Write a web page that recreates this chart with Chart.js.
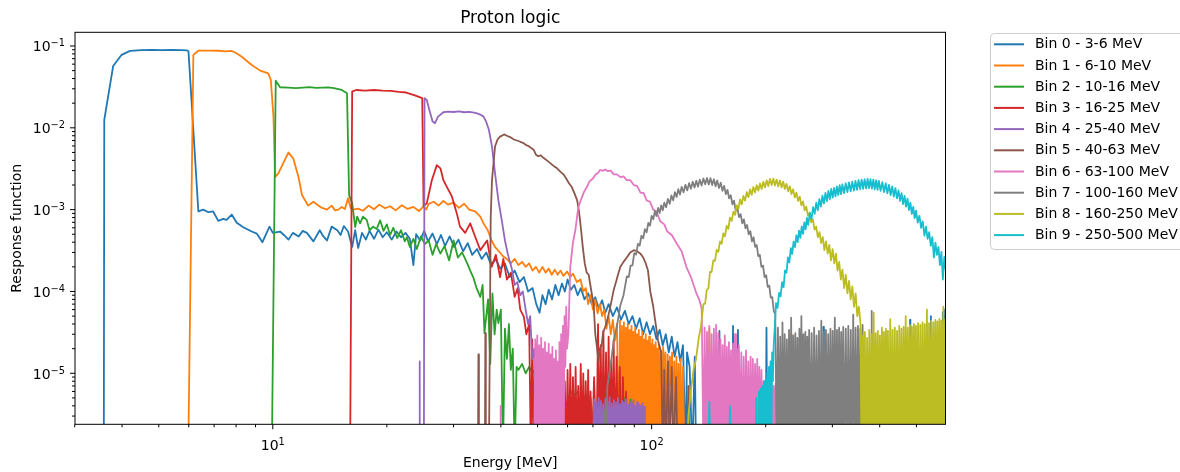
<!DOCTYPE html>
<html>
<head>
<meta charset="utf-8">
<script src="https://cdn.jsdelivr.net/npm/chart.js@4/dist/chart.umd.min.js"></script>
<style>html,body{margin:0;padding:0;background:#fff;overflow:hidden}</style>
</head>
<body>
<canvas id="proton_chart" width="1180" height="472"></canvas>
<script>
const binLabels = ['Bin 0 - 3-6 MeV', 'Bin 1 - 6-10 MeV', 'Bin 2 - 10-16 MeV', 'Bin 3 - 16-25 MeV', 'Bin 4 - 25-40 MeV',
    'Bin 5 - 40-63 MeV', 'Bin 6 - 63-100 MeV', 'Bin 7 - 100-160 MeV', 'Bin 8 - 160-250 MeV', 'Bin 9 - 250-500 MeV']
const binColors = ['#1f77b4', '#ff7f0e', '#2ca02c', '#d62728', '#9467bd', '#8c564b', '#e377c2', '#7f7f7f', '#bcbd22', '#17becf']

// tick labels (powers of ten) and minor tick positions
const xTickValues = [10, 100]
const xTickExps = ['1', '2']
const xMinor = [3, 4, 5, 6, 7, 8, 9, 20, 30, 40, 50, 60, 70, 80, 90, 200, 300, 400, 500]
const yTickValues = [1e-5, 1e-4, 1e-3, 1e-2, 1e-1]
const yTickExps = ['\u22125', '\u22124', '\u22123', '\u22122', '\u22121']
const yMinor = [3e-6, 4e-6, 5e-6, 6e-6, 7e-6, 8e-6, 9e-6, 2e-5, 3e-5, 4e-5, 5e-5, 6e-5, 7e-5, 8e-5, 9e-5,
    2e-4, 3e-4, 4e-4, 5e-4, 6e-4, 7e-4, 8e-4, 9e-4, 2e-3, 3e-3, 4e-3, 5e-3, 6e-3, 7e-3, 8e-3, 9e-3,
    2e-2, 3e-2, 4e-2, 5e-2, 6e-2, 7e-2, 8e-2, 9e-2]

// [energy MeV, response], 0 = empty bin
const bin0 = [[3.0,0],[3.58,0],[3.59,0.0125],[3.79,0.057],[3.99,0.078],[4.2,0.087],[4.5,0.089],[4.8,0.0895],[5.1,0.089],[5.4,0.0895],[5.7,0.089],[5.93,0.0885],[5.99,0.086],[6.36,0.00095],[6.55,0.001],[6.76,0.00093],[6.96,0.00095],[7.18,0.00073],[7.4,0.00077],[7.55,0.00075],[7.79,0.00087],[8.03,0.00069],[8.36,0.00061],[8.8,0.00054],[9.07,0.00051],[9.39,0.0004],[9.8,0.00062],[10.0,0.00052],[10.45,0.00054],[10.7,0.00049],[11.0,0.00043],[11.3,0.00052],[11.7,0.00047],[12.0,0.00055],[12.3,0.00052],[12.8,0.00041],[13.3,0.00056],[13.6,0.00047],[13.9,0.00042],[14.3,0.00062],[14.8,0.00056],[15.1,0.00049],[15.4,0.00063],[15.8,0.00054],[16.2,0.00035],[16.5,0.00056],[16.8,0.00034],[17.2,0.00052],[17.6,0.00043],[18.0,0.00055],[18.5,0.00044],[19.0,0.00057],[19.5,0.00046],[20.0,0.00053],[20.6,0.00043],[21.2,0.00054],[21.8,0.00046],[22.4,0.00052],[23.0,0.00044],[23.5,0.00021],[23.9,0.0005],[24.5,0.00042],[25.1,0.00055],[25.7,0.00041],[26.4,0.00051],[27.1,0.00038],[27.8,0.00049],[28.5,0.00036],[29.3,0.00047],[30.1,0.00035],[30.9,0.00043],[31.8,0.00031],[32.7,0.00039],[33.6,0.00028],[34.6,0.00033],[35.6,0.00025],[36.6,0.0003],[37.7,0.00021],[38.8,0.00025],[39.8,0.00019],[41.0,0.00022],[42.2,0.00015],[43.5,0.00018],[44.8,0.00013],[46.0,0.00015],[47.2,0.0001],[48.5,0.00011],[49.6,0.00007],[50.6,0.000055],[51.5,0.00009],[52.5,0.00007],[53.5,0.000105],[54.6,0.00008],[55.7,0.00012],[56.8,0.00009],[58.0,0.000125],[59.0,0.0001],[60.0,0.00014],[61.2,0.000105],[62.5,0.00012],[63.8,0.00009],[65.0,0.00011],[66.5,0.00008],[68.0,0.000095],[69.5,0.00007],[71.0,0.000085],[72.5,0.000062],[74.0,0.000078],[75.5,0.000055],[77.0,0.00007],[79.0,0.00005],[81.0,0.000064],[83.0,0.000045],[85.0,0.000058],[87.0,0.00004],[89.0,0.00005],[91.0,0.000035],[93.0,0.000047],[95.0,0.00003],[97.0,0.000042],[99.0,0.00003],[101,0.000038],[103,0.000026],[105,0.000034],[107,0.000022],[109,0.00003],[111,0.000018],[113,0.000028],[115,0.000016],[117,0.000024],[119,0.000014],[121,0.000022],[123,0],[124,0.000018],[126,0.000012],[128,0],[130,0.000016],[131,0],[150,0],[151,0.000033],[152,0],[163,0],[164,0.000038],[165,0],[168,0],[169,0.000034],[170,0],[200,0],[201,0.000036],[202,0],[283,0],[284,0.000037],[285,0],[480,0],[481,0.000045],[482,0],[545,0],[546,0.00005],[547,0],[586,0],[587,0.000056],[589,0.00005],[591,0],[594,0],[595,0.00006],[597,0.000055]]

const bin1 = [[3.0,0],[5.98,0],[6.17,0.078],[6.36,0.0876],[6.8,0.088],[7.2,0.0875],[7.5,0.086],[7.79,0.087],[8.0,0.082],[8.28,0.074],[8.8,0.0586],[9.26,0.05],[9.73,0.0463],[9.88,0.0384],[10.04,0.0137],[10.14,0.0025],[10.35,0.0028],[11.0,0.005],[11.33,0.0042],[11.69,0.0025],[11.95,0.0015],[12.4,0.00112],[12.8,0.00125],[13.2,0.00112],[13.5,0.00105],[13.9,0.001],[14.3,0.00112],[14.6,0.00098],[14.9,0.001],[15.2,0.00108],[15.5,0.00102],[15.8,0.00138],[16.05,0.00105],[16.3,0.001],[16.8,0.00103],[17.3,0.00097],[17.9,0.00112],[18.5,0.00101],[19.1,0.00115],[19.8,0.00104],[20.4,0.0011],[21.1,0.00098],[21.9,0.00113],[22.7,0.00102],[23.5,0.00108],[24.3,0.00096],[25.0,0.0011],[25.4,0.001],[25.8,0.00118],[26.6,0.00125],[27.4,0.00112],[28.2,0.00128],[29.0,0.00115],[30.0,0.00122],[31.0,0.00105],[32.0,0.00118],[33.0,0.001],[34.2,0.00095],[35.3,0.00082],[36.0,0.00068],[37.0,0.00055],[37.8,0.00042],[38.6,0.00035],[39.5,0.00031],[40.5,0.00027],[41.5,0.00025],[42.5,0.00022],[43.5,0.00025],[44.5,0.00021],[45.5,0.00023],[46.5,0.0002],[47.5,0.00022],[48.5,0.00018],[49.5,0.0002],[50.5,0.00017],[51.5,0.0002],[52.5,0.00017],[53.5,0.00019],[54.5,0.00016],[55.5,0.000185],[56.5,0.00016],[57.5,0.00018],[58.5,0.000155],[59.8,0.000175],[61.0,0.00015],[62.0,0.000165],[63.5,0.00013],[64.9,0.00014],[66.0,0.0001],[67.0,0.00011],[68.0,0.00007],[69.0,0.00009],[70.0,0.00006],[71.0,0.00008],[72.0,0.000054],[73.1,0.00007],[74,0.00005],[75,0.00006],[76,0.000035],[77,0.00005],[78,0.00003],[79,0.000045],[80,0.000025],[81,0.00004],[82,0],[82.5,0.000044],[83,0],[83.5,0.000038],[84,0],[84.5,0.000042],[85,0],[85.5,0.000036],[86,0],[86.5,0.00004],[87,0],[87.5,0.000034],[88,0],[88.5,0.000038],[89,0],[89.5,0.000032],[90,0],[90.5,0.000036],[91,0],[91.5,0.00003],[92,0],[92.5,0.000034],[93,0],[93.5,0.000028],[94,0],[94.5,0.000032],[95,0],[95.5,0.000026],[96,0],[96.5,0.00003],[97,0],[97.5,0.000025],[98,0],[98.5,0.000028],[99,0],[99.5,0.000023],[100,0],[100.5,0.000026],[101,0],[101.5,0.000022],[102,0],[102.5,0.000024],[103,0],[103.5,0.00002],[104,0],[104.5,0.000022],[105,0],[105.75,0.000019],[106.5,0],[107.25,0.000021],[108,0.000009],[108.75,0.000018],[109.5,0],[110.25,0.000017],[111,0],[111.75,0.000016],[112.5,0.000007],[113.25,0.000018],[114,0],[114.75,0.000014],[115.5,0],[116.25,0.000016],[117,0],[117.75,0.000013],[118.5,0],[119.25,0.000015],[120,0],[121,0.000012],[122,0],[141,0],[142,0.000035],[143,0],[233,0],[234,0.00003],[235,0],[597,0]]

const bin2 = [[3.0,0],[9.94,0],[10.18,0.0377],[10.45,0.0313],[11.0,0.031],[11.5,0.0305],[12.0,0.031],[12.5,0.0315],[13.0,0.0308],[13.5,0.031],[14.0,0.0312],[14.5,0.0305],[15.2,0.029],[15.7,0.0264],[15.9,0.0015],[16.2,0.0012],[16.5,0.00061],[16.7,0.00082],[17.0,0.00068],[17.3,0.00082],[17.7,0.00075],[18.0,0.00056],[18.4,0.00062],[18.8,0.00058],[19.2,0.00074],[19.6,0.00055],[20.0,0.00066],[20.4,0.00049],[20.8,0.0006],[21.3,0.00045],[21.8,0.00056],[22.3,0.00041],[22.6,0.00046],[23.0,0.00035],[23.5,0.00044],[24.0,0.00033],[24.6,0.00047],[25.2,0.00038],[25.8,0.00042],[26.4,0.00028],[27.0,0.00038],[27.7,0.00029],[28.4,0.00036],[29.2,0.00024],[30.0,0.00042],[30.8,0.00026],[31.6,0.0003],[32.6,0.00022],[33.2,0.00018],[33.8,0.00015],[34.5,0.00011],[35.3,0.000086],[35.8,0.00012],[36.2,0.000031],[37.0,0.00008],[37.5,0.000013],[38.0,0.000095],[38.5,0.00003],[39.0,0.00006],[39.4,0.000041],[40.0,0.00006],[40.5,0],[41.0,0.000035],[41.5,0.000015],[42.0,0.00004],[42.5,0.000011],[43.0,0.00002],[43.5,0],[44.0,0.000012],[44.5,0.000011],[45.5,0.000013],[46.5,0.00001],[47.5,0.000012],[48.5,0.00001],[49.5,0.0000115],[50.5,0.0000095],[51.5,0.00001],[52.5,0.000008],[54.0,0.0000075],[55.5,0.0000065],[57.0,0.000006],[58.5,0.0000055],[60.0,0],[61.0,0.000006],[62.5,0.0000055],[64.0,0.000006],[65.5,0],[67.0,0.0000055],[69.0,0.000005],[71.0,0],[73.0,0.000005],[75.0,0.0000048],[77.0,0],[79.0,0.000005],[81.0,0.0000045],[83.0,0],[84.5,0.000005],[86.0,0],[88.0,0.0000048],[90.0,0],[597,0]]

const bin3 = [[3.0,0],[16.0,0],[16.2,0.0277],[16.6,0.029],[17.5,0.0285],[18.5,0.029],[19.5,0.0285],[20.5,0.0282],[21.5,0.0275],[22.5,0.027],[23.5,0.0253],[24.2,0.024],[24.8,0.023],[25.0,0.0011],[25.5,0.0012],[26.3,0.0023],[27.1,0.0035],[27.7,0.0032],[28.2,0.0023],[28.8,0.0019],[29.7,0.00145],[30.6,0.0009],[31.2,0.00062],[32.2,0.00052],[33.2,0.00068],[34.2,0.00047],[35.3,0.00032],[36.8,0.00042],[37.8,0.0002],[38.8,0.00028],[39.8,0.00015],[40.6,0.00025],[41.5,0.00014],[42.5,0.00017],[43.5,0.000086],[44.3,0.00011],[45.0,0.00006],[46.0,0.000049],[46.7,0.00003],[47.5,0.00004],[48,0],[48.4,0.000026],[48.8,0],[49.2,0.000018],[49.6,0],[50,0.000012],[50.4,0],[50.8,0.000009],[51.2,0],[51.6,0.000008],[52,0],[53,0.000005],[53.5,0],[55,0.000012],[55.5,0],[56,0.000009],[56.5,0],[57,0.000011],[57.5,0],[58,0.000014],[58.5,0],[59,0.000008],[59.5,0],[60,0.000011],[60.5,0],[61,0.000013],[61.5,0],[62,0.000009],[62.5,0],[63,0.000012],[63.5,0],[64,0.000007],[64.5,0],[65,0.000013],[65.5,0],[66,0.00001],[66.5,0],[67,0.000008],[67.5,0],[68,0.000011],[68.5,0],[69,0.000006],[69.5,0],[70.5,0.000009],[71.5,0],[72.2,0.00004],[72.8,0],[73.4,0.000022],[74,0],[74.6,0.000033],[75.2,0],[75.8,0.000018],[76.4,0],[77,0.000028],[77.6,0],[78.2,0.000014],[78.8,0],[79.4,0.000025],[80,0],[80.8,0.000016],[81.6,0],[82.4,0.000012],[83.2,0],[84,0.000009],[84.8,0],[85.6,0.000006],[86.4,0],[597,0]]

const bin4 = [[3.0,0],[24.35,0],[24.4,0.000014],[24.45,0],[25.05,0],[25.15,0.023],[25.5,0.0219],[25.9,0.0165],[26.4,0.012],[26.8,0.0114],[27.3,0.0137],[28.2,0.0155],[29.0,0.0158],[30.0,0.0156],[31.0,0.0159],[32.0,0.0155],[33.0,0.0157],[34.0,0.0153],[34.6,0.015],[35.3,0.0145],[36.0,0.0137],[36.6,0.0118],[37.2,0.0094],[37.9,0.0059],[38.6,0.0028],[39.4,0.0013],[40.2,0.00075],[41.0,0.00042],[41.7,0.00029],[42.8,0.000185],[43.5,0.00012],[44.2,0.00013],[45.0,0.00009],[45.7,0.0001],[46.5,0.00006],[47.2,0.00004],[47.8,0.00005],[48.4,0.000015],[49.0,0.00002],[49.5,0],[50.5,0.000009],[51.5,0],[53.0,0.000007],[54.0,0],[70,0],[70.5,0.0000048],[71,0],[71.5,0.0000044],[72,0],[72.5,0.000005],[73,0],[73.5,0.0000046],[74,0],[74.5,0.0000042],[75,0],[75.5,0.0000049],[76,0],[76.5,0.0000045],[77,0],[77.5,0.0000051],[78,0],[78.5,0.0000043],[79,0],[79.5,0.0000047],[80,0],[80.5,0.0000044],[81,0],[81.5,0.000005],[82,0],[82.5,0.0000042],[83,0],[83.5,0.0000046],[84,0],[84.5,0.0000044],[85,0],[85.5,0.0000048],[86,0],[86.5,0.0000041],[87,0],[87.5,0.0000045],[88,0],[88.5,0.0000043],[89,0],[89.5,0.0000047],[90,0],[90.5,0.000004],[91,0],[91.5,0.0000044],[92,0],[92.5,0.0000042],[93,0],[93.5,0.000004],[94,0],[94.5,0.0000043],[95,0],[95.5,0.0000039],[96,0],[597,0]]

const bin5 = [[3.0,0],[34.8,0],[34.9,0.000017],[35.0,0],[36.3,0],[36.4,0.000031],[36.5,0],[37.2,0],[37.6,0.0008],[37.9,0.0023],[38.6,0.0059],[39.2,0.0072],[39.8,0.0078],[40.8,0.0083],[41.5,0.008],[42.3,0.0077],[43.3,0.0072],[44.5,0.0069],[45.9,0.0065],[46.5,0.0062],[47.3,0.006],[48.0,0.0057],[48.8,0.0054],[49.5,0.0047],[50.2,0.0045],[51.0,0.0046],[51.8,0.0043],[52.9,0.004],[54.0,0.0037],[55.2,0.0034],[56.3,0.0032],[57.5,0.0029],[58.5,0.0027],[59.5,0.0024],[60.5,0.0021],[61.5,0.0019],[62.5,0.0016],[63.6,0.0013],[64.2,0.001],[64.7,0.00075],[65.3,0.0005],[65.8,0.00035],[66.6,0.00022],[67.4,0.00017],[68.2,0.00016],[68.9,0.00012],[69.6,0.00009],[70.3,0.00007],[71.0,0.00003],[71.7,0.000021],[72.4,0.000014],[73.0,0.00002],[73.8,0.000022],[74.5,0.000032],[75.3,0.000036],[76.4,0.000045],[77.5,0.00006],[78.5,0.00008],[79.4,0.000104],[80.5,0.00013],[81.5,0.00016],[82.7,0.0002],[84.3,0.00023],[86.0,0.00026],[87.8,0.0003],[89.7,0.00032],[91.5,0.00031],[93.5,0.00029],[95.0,0.00026],[96.5,0.00022],[97.8,0.00018],[99.2,0.0001],[101,0.000065],[102.5,0.00004],[104,0.000025],[106,0.000018],[107,0],[108,0.000011],[109,0],[110.5,0.000014],[111.5,0],[113,0.000012],[114,0],[116,0.000009],[117,0],[124,0],[125,0.000007],[126,0],[597,0]]

const bin6 = [[3.0,0],[39.8,0],[39.9,0.000004],[40.0,0],[49,0],[49.3,0.000026],[49.6,0],[49.9,0.000029],[50.2,0],[50.5,0.000022],[50.8,0],[51.1,0.000027],[51.4,0],[51.7,0.00002],[52,0],[52.3,0.000024],[52.6,0],[52.9,0.000018],[53.2,0],[53.5,0.000023],[53.8,0],[54.1,0.000017],[54.4,0],[54.7,0.000021],[55,0],[55.3,0.000015],[55.6,0],[55.9,0.000019],[56.2,0],[56.5,0.000014],[56.8,0],[57.1,0.000024],[57.4,0],[57.7,0.00003],[58,0],[58.3,0.000038],[58.6,0],[58.9,0.00005],[59.2,0.000012],[59.5,0.000065],[59.8,0.00002],[60.3,0.00003],[61,0.0002],[62,0.0004],[62.9,0.00056],[64,0.00105],[65,0.0013],[66.3,0.00165],[67.5,0.0019],[68.5,0.0022],[70,0.0024],[71.2,0.0027],[72.2,0.0028],[73.1,0.00305],[74.5,0.003],[75.5,0.0031],[76.4,0.00295],[78,0.003],[79.4,0.0027],[81,0.0027],[82.7,0.0025],[84.3,0.00255],[86,0.0023],[87.8,0.0023],[89.7,0.002],[91.5,0.00195],[93.5,0.0016],[95.2,0.0016],[97,0.0013],[99,0.00125],[101,0.001],[103,0.00095],[105.4,0.00072],[108,0.00066],[110,0.00054],[113,0.00049],[116.7,0.00038],[120,0.00031],[123.5,0.0002],[127,0.00015],[131.4,0.000094],[133.5,0.00008],[135.6,0.000062],[137,0],[138,0.000036],[139,0],[140,0.000032],[141,0],[142,0.000038],[143,0],[144,0.00003],[145,0],[146,0.000035],[147,0],[148,0.000039],[149,0],[150,0.000031],[151,0],[152,0.000026],[153,0],[154,0.000022],[155,0],[156,0.000029],[157,0],[158,0.000021],[159,0],[160,0.000024],[161,0],[162,0.000019],[163,0],[164,0.000023],[165,0],[166,0.00003],[167,0],[168,0.00002],[169,0],[170,0.000022],[171.25,0],[172.5,0.000018],[173.75,0],[175,0.000016],[176.25,0],[177.5,0.000019],[178.75,0],[180,0.000014],[181.25,0],[182.5,0.000016],[183.75,0],[185,0.000015],[186.25,0],[187.5,0.000013],[188.75,0],[190,0.000015],[191.25,0],[192.5,0.000012],[193.75,0],[195,0.000011],[196.25,0],[197.5,0.000008],[198.75,0],[200,0.0000075],[201.25,0],[202.5,0.000008],[203.75,0],[205,0.000007],[206.25,0],[207.5,0.0000075],[208.75,0],[210,0.000007],[211.25,0],[212.5,0.0000075],[213.75,0],[215,0.0000065],[216.5,0],[597,0]]

const bin7 = [[3.0,0],[74.5,0],[75,0.0000035],[75.5,0],[76.4,0.0000069],[78,0.000013],[79.5,0.000026],[81,0.000038],[82.7,0.000068],[84.3,0.00009],[86,0.000153],[87,0.00015],[88,0.000207],[89,0.000209],[90,0.000294],[91,0.000282],[92,0.000382],[93,0.000364],[94,0.00048],[95,0.000446],[96,0.000578],[97,0.000528],[98,0.000687],[99,0.000637],[100,0.000839],[101,0.000764],[102,0.000959],[103,0.000837],[104,0.00105],[105,0.00091],[106,0.00113],[107,0.000983],[108,0.00122],[109.2,0.00107],[110.4,0.00135],[111.6,0.00118],[112.8,0.00149],[114,0.0013],[115.2,0.00164],[116.4,0.00143],[117.6,0.00178],[118.8,0.00153],[120,0.0019],[121.4,0.00163],[122.8,0.00201],[124.2,0.00172],[125.6,0.00211],[127,0.0018],[128.4,0.00219],[129.8,0.00186],[131.2,0.00226],[132.6,0.00191],[134,0.00232],[135.5,0.00197],[137,0.0024],[138.5,0.00204],[140,0.00244],[141.5,0.00203],[143,0.00242],[144.5,0.002],[146,0.00235],[147.5,0.00193],[149,0.00227],[150.6,0.00184],[152.2,0.00213],[153.8,0.0017],[155.4,0.00195],[157,0.00155],[158.6,0.00174],[160.2,0.00137],[161.8,0.0015],[163.4,0.00116],[165,0.00129],[166.7,0.00097],[168.4,0.00106],[170.1,0.00081],[171.8,0.00088],[173.5,0.00068],[175.2,0.00076],[176.9,0.00059],[178.6,0.00065],[180.4,0.0005],[182.2,0.000545],[184,0.00041],[185.8,0.00046],[187.6,0.00035],[189.4,0.00037],[191.2,0.00027],[193,0.00028],[194.9,0.0002],[196.8,0.000207],[198.7,0.00015],[200.6,0.000158],[202.5,0.000114],[204.4,0.000118],[206.3,0.000084],[208.2,0.000085],[210.1,0.000058],[212,0.000053],[214,0],[215.5,0.000036],[217,0],[218.5,0.000028],[220,0],[221.5,0.000042],[223,0],[224.5,0.00003],[226,0],[227.5,0.000026],[229,0],[230.5,0.000034],[232,0],[233.5,0.000048],[235,0],[236.5,0.000029],[238,0],[239.5,0.000031],[241,0],[242.5,0.000027],[244,0],[245.5,0.000035],[247,0],[248.5,0.00005],[250,0],[251.5,0.00003],[253,0],[254.5,0.000032],[256,0],[257.5,0.000028],[259,0],[260.5,0.000034],[262.5,0],[264.5,0.000031],[266.5,0],[268.5,0.000036],[270.5,0],[272.5,0.000029],[274.5,0],[276.5,0.000033],[278.5,0],[280.5,0.000044],[282.5,0],[284.5,0.000032],[286.5,0],[288.5,0.000034],[290.5,0],[292.5,0.00003],[294.5,0],[296.5,0.000035],[298.5,0],[300.5,0.000033],[302.5,0],[304.5,0.000048],[306.5,0],[308.5,0.000034],[310.5,0],[312.5,0.000036],[314.5,0],[316.5,0.000032],[318.5,0],[320.5,0.000037],[323,0],[325.5,0.000035],[328,0],[330.5,0.000038],[333,0],[335.5,0.000034],[338,0],[340.5,0.000052],[343,0],[345.5,0.000036],[348,0],[350.5,0.000038],[353,0],[355.5,0.000035],[358,0],[360.5,0.000039],[362.5,0],[380,0],[381,0.000058],[382,0],[470,0],[472,0.000027],[474,0],[597,0]]

const bin8 = [[3.0,0],[124,0],[125,0.000003],[127,0.0000062],[129,0.000011],[131,0.000015],[133,0.000026],[135,0.000038],[137,0.00007],[138.4,0.000071],[139.8,0.000104],[141.2,0.000109],[142.6,0.000174],[144,0.000173],[145.5,0.00024],[147,0.000237],[148.5,0.000322],[150,0.000305],[151.5,0.000409],[153,0.000382],[154.6,0.000512],[156.2,0.000473],[157.8,0.000632],[159.4,0.000582],[161,0.000796],[162.7,0.000728],[164.4,0.000948],[166.1,0.000865],[167.8,0.00113],[169.5,0.00103],[171.2,0.00133],[172.9,0.00116],[174.7,0.00147],[176.5,0.00129],[178.3,0.00164],[180.1,0.00142],[181.9,0.00177],[183.7,0.00152],[185.6,0.00189],[187.5,0.00162],[189.4,0.00199],[191.3,0.00171],[193.2,0.00209],[195.2,0.00179],[197.2,0.00219],[199.2,0.00187],[201.2,0.00228],[203.2,0.00194],[205.3,0.00237],[207.4,0.002],[209.5,0.00239],[211.6,0.00197],[213.7,0.00233],[215.9,0.00192],[218.1,0.00227],[220.3,0.00187],[222.5,0.0022],[224.7,0.00179],[227,0.00207],[229.3,0.00167],[231.6,0.00193],[233.9,0.00155],[236.3,0.00177],[238.7,0.00141],[241.1,0.00161],[243.5,0.00128],[246,0.00144],[248.5,0.00113],[251,0.00126],[253.5,0.00098],[256,0.00109],[258.6,0.00084],[261.2,0.00092],[263.8,0.0007],[266.5,0.00076],[269.2,0.00057],[271.9,0.00062],[274.6,0.00046],[277.4,0.00053],[280.2,0.00039],[283,0.00046],[285.8,0.00032],[288.7,0.00041],[291.6,0.00029],[294.5,0.00037],[297.5,0.00024],[300.5,0.00033],[303.5,0.00022],[306.5,0.00029],[309.6,0.00018],[312.7,0.00023],[315.8,0.00014],[319,0.000185],[322.2,0.00011],[325.4,0.00016],[328.7,0.000095],[332,0.000135],[335.3,0.00008],[338.7,0.000115],[342.1,0.000065],[345.5,0.000095],[349,0.00005],[352.5,0.000065],[356,0.00004],[358,0],[360.5,0.000029],[363,0],[365.5,0.000032],[368,0],[370.5,0.000027],[373,0],[375.5,0.000034],[378,0],[380.5,0.00003],[383,0],[385.5,0.000055],[388,0],[390.5,0.000031],[393,0],[395.5,0.000033],[398,0],[400.5,0.000029],[403,0],[405.5,0.000036],[408,0],[410.5,0.000032],[413,0],[415.5,0.000035],[418,0],[420.5,0.000033],[423.5,0],[426.5,0.000046],[429.5,0],[432.5,0.000034],[435.5,0],[438.5,0.000036],[441.5,0],[444.5,0.000033],[447.5,0],[450.5,0.000038],[453.5,0],[456.5,0.000035],[459.5,0],[462.5,0.000037],[465.5,0],[468.5,0.00005],[471.5,0],[474.5,0.000036],[477.5,0],[480.5,0.000039],[483.5,0],[486.5,0.000037],[489.5,0],[492.5,0.00004],[495.5,0],[498.5,0.000038],[501.5,0],[505,0.000041],[508.5,0],[512,0.000039],[515.5,0],[519,0.000042],[522.5,0],[526,0.00004],[529.5,0],[533,0.00006],[536.5,0],[540,0.000041],[543.5,0],[547,0.000044],[550.5,0],[554,0.000042],[557.5,0],[561,0.000045],[564.5,0],[568,0.000043],[571.5,0],[575,0.000046],[578.5,0],[582,0.000044],[585.5,0],[589,0.000065],[592.5,0],[596,0.000046],[599,0]]

const bin9 = [[3.0,0],[141,0],[142,0.0000045],[143,0],[160,0],[161,0.000004],[162,0],[188,0],[189,0.000005],[190,0],[191,0],[192,0.000006],[193,0],[194,0.0000065],[195,0],[196,0.000007],[197,0],[198,0.000008],[199,0],[200,0.0000085],[201,0],[202,0.00001],[203,0],[204,0.000012],[205,0],[206,0.000014],[207,0],[208,0.000018],[209,0.000008],[210,0.000022],[211.5,0.000038],[213,0.000072],[215,0.000063],[217,0.000096],[219,0.000087],[221,0.00013],[223,0.000113],[225,0.000181],[227,0.00017],[229,0.00026],[231,0.000226],[233,0.000339],[235,0.000287],[237,0.000407],[239,0.000348],[241,0.000486],[243,0.0004],[245,0.000554],[247,0.000452],[249,0.000622],[251,0.000505],[253,0.0007],[255,0.000574],[257,0.000791],[259,0.000653],[261.6,0.000915],[264.2,0.000766],[266.8,0.00107],[269.4,0.000887],[272,0.00122],[274.6,0.000983],[277.2,0.00134],[279.8,0.00109],[282.4,0.00148],[285,0.00119],[287.6,0.0016],[290.2,0.00127],[292.8,0.0017],[295.4,0.00134],[298,0.00179],[300.6,0.0014],[303.2,0.00185],[305.8,0.00145],[308.4,0.00192],[311,0.00151],[313.6,0.00199],[316.2,0.00155],[318.8,0.00203],[322.1,0.00159],[325.4,0.0021],[328.7,0.00164],[332,0.00215],[335.3,0.00167],[338.6,0.0022],[341.9,0.00171],[345.2,0.00225],[348.5,0.00175],[351.8,0.00229],[355.1,0.00178],[358.4,0.00233],[361.7,0.0018],[365,0.00235],[368.3,0.00182],[371.6,0.00237],[374.9,0.00183],[378.2,0.00236],[381.5,0.00181],[384.8,0.00233],[388.1,0.00177],[391.4,0.00228],[394.7,0.00174],[398,0.00224],[402.2,0.0017],[406.4,0.00217],[410.6,0.00164],[414.8,0.0021],[419,0.00158],[423.2,0.00201],[427.4,0.00151],[431.6,0.00192],[435.8,0.00144],[440,0.00183],[444.2,0.00137],[448.4,0.00172],[452.6,0.00128],[456.8,0.00159],[461,0.00117],[465.2,0.00147],[469.4,0.00109],[473.6,0.00136],[477.8,0.00099],[482,0.00122],[486.2,0.00089],[490.4,0.00108],[494.6,0.00079],[498.8,0.00097],[504,0.000696],[509.2,0.00084],[514.4,0.0006],[519.6,0.00072],[524.8,0.00048],[530,0.00062],[535.2,0.00044],[540.4,0.00053],[545.6,0.00036],[550.8,0.00046],[556,0.00026],[561.2,0.000395],[566.4,0.00028],[571.6,0.00035],[576.8,0.00021],[582,0.000305],[587.2,0.00014],[592.4,0.000265],[597.6,0.00018]]

const bins = [bin0, bin1, bin2, bin3, bin4, bin5, bin6, bin7, bin8, bin9]

const FONT = '"DejaVu Sans", sans-serif'
const FLOOR = 1e-6 // empty bins fall off the bottom of the log axis, like matplotlib's clip

Chart.defaults.font.family = FONT
Chart.defaults.color = '#000'

function drawPow(ctx, exp, x, y, align) {
    ctx.font = '14px ' + FONT
    const wb = ctx.measureText('10').width
    ctx.font = '9.8px ' + FONT
    const we = ctx.measureText(exp).width
    const x0 = align === 'right' ? x - wb - we : x - (wb + we) / 2
    ctx.font = '14px ' + FONT
    ctx.fillText('10', x0, y)
    ctx.font = '9.8px ' + FONT
    ctx.fillText(exp, x0 + wb, y - 5)
}

// matplotlib style frame, tick marks and 10^n labels
const axesBox = {
    id: 'axesBox',
    afterDraw(chart) {
        const {ctx, chartArea: a} = chart
        const xs = chart.scales.x, ys = chart.scales.y
        ctx.save()
        ctx.strokeStyle = '#000'
        ctx.fillStyle = '#000'
        ctx.lineWidth = 1
        ctx.strokeRect(a.left, a.top, a.right - a.left, a.bottom - a.top)
        ctx.beginPath()
        xMinor.forEach(v => { const p = xs.getPixelForValue(v); ctx.moveTo(p, a.bottom); ctx.lineTo(p, a.bottom + 3) })
        xTickValues.forEach(v => { const p = xs.getPixelForValue(v); ctx.moveTo(p, a.bottom); ctx.lineTo(p, a.bottom + 5) })
        yMinor.forEach(v => { const p = ys.getPixelForValue(v); ctx.moveTo(a.left, p); ctx.lineTo(a.left - 3, p) })
        yTickValues.forEach(v => { const p = ys.getPixelForValue(v); ctx.moveTo(a.left, p); ctx.lineTo(a.left - 5, p) })
        ctx.stroke()
        ctx.textAlign = 'left'
        ctx.textBaseline = 'alphabetic'
        xTickValues.forEach((v, i) => drawPow(ctx, xTickExps[i], xs.getPixelForValue(v), a.bottom + 26, 'center'))
        yTickValues.forEach((v, i) => drawPow(ctx, yTickExps[i], a.left - 10, ys.getPixelForValue(v) + 5.5, 'right'))
        ctx.restore()
    }
}

// legend outside the axes, upper left anchored like bbox_to_anchor=(1.05, 1)
const sideLegend = {
    id: 'sideLegend',
    afterDraw(chart) {
        const ctx = chart.ctx
        const x0 = 990.5, y0 = 33.5, row = 21.2
        ctx.save()
        ctx.beginPath()
        ctx.roundRect(x0, y0, 196, 216, 4)
        ctx.fillStyle = 'rgba(255,255,255,0.8)'
        ctx.fill()
        ctx.strokeStyle = '#cccccc'
        ctx.lineWidth = 1
        ctx.stroke()
        ctx.font = '14px ' + FONT
        ctx.textAlign = 'left'
        ctx.textBaseline = 'middle'
        chart.data.datasets.forEach((ds, i) => {
            const y = 44.3 + row * i
            ctx.strokeStyle = ds.borderColor
            ctx.lineWidth = 2
            ctx.beginPath()
            ctx.moveTo(994, y)
            ctx.lineTo(1024, y)
            ctx.stroke()
            ctx.fillStyle = '#000'
            ctx.fillText(ds.label, 1035, y + 0.5)
        })
        ctx.restore()
    }
}

const data = {
    datasets: bins.map((pts, i) => ({
        label: binLabels[i],
        data: pts.map(p => ({x: p[0], y: p[1] > 0 ? p[1] : FLOOR})),
        borderColor: binColors[i],
        backgroundColor: binColors[i],
        borderWidth: 1.8,
        borderJoinStyle: 'round',
        pointRadius: 0,
        pointHitRadius: 0,
        order: bins.length - i,
    }))
}

const config = {
    type: 'line',
    data: data,
    options: {
        responsive: false,
        animation: false,
        devicePixelRatio: 1,
        events: [],
        layout: {
            padding: {left: 0, right: 234.5, top: 0, bottom: 0}
        },
        plugins: {
            legend: {display: false},
            tooltip: {enabled: false},
            title: {
                display: true,
                text: 'Proton logic',
                fullSize: false,
                font: {size: 17, weight: 'normal'},
                padding: {top: 8, bottom: 3.9}
            }
        },
        scales: {
            x: {
                type: 'logarithmic',
                min: 3.005,
                max: 596.7,
                ticks: {display: false},
                grid: {display: false},
                border: {display: false},
                title: {display: true, text: 'Energy [MeV]', font: {size: 14}, padding: {top: 0, bottom: 0}},
                afterFit(s) { s.height = 47.7 }
            },
            y: {
                type: 'logarithmic',
                min: 2.38e-6,
                max: 0.147,
                ticks: {display: false},
                grid: {display: false},
                border: {display: false},
                title: {display: true, text: 'Response function', font: {size: 14}, padding: {top: 8.5, bottom: 0}},
                afterFit(s) { s.width = 75 }
            }
        }
    },
    plugins: [axesBox, sideLegend]
}

const proton_chart = new Chart(document.getElementById('proton_chart'), config)
</script>
</body>
</html>
